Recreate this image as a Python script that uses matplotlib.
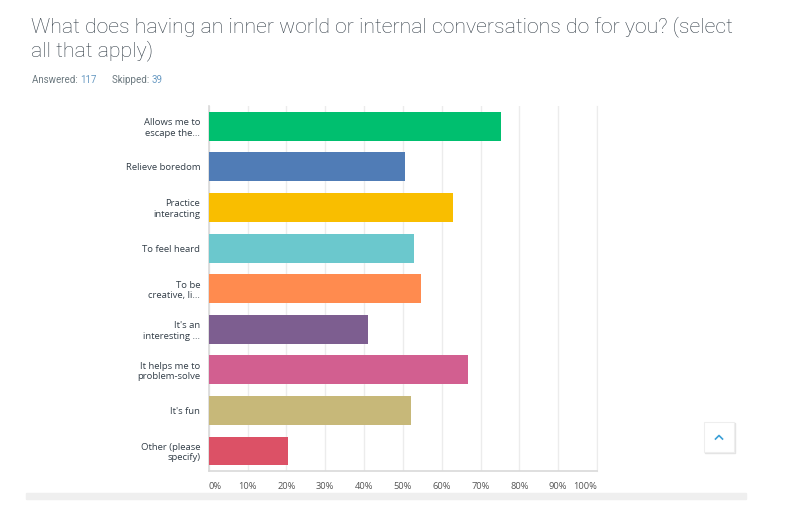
import matplotlib
matplotlib.use("Agg")
import matplotlib.pyplot as plt
from matplotlib.patches import Rectangle
from matplotlib.lines import Line2D

categories = ["Allows me to\nescape the...", "Relieve boredom", "Practice\ninteracting",
              "To feel heard", "To be\ncreative, li...", "It's an\ninteresting ...",
              "It helps me to\nproblem-solve", "It's fun", "Other (please\nspecify)"]
values = [75.21, 50.43, 62.93, 52.99, 54.70, 41.03, 66.67, 52.14, 20.51]
colors = ["#00BF6F", "#507CB6", "#F9BE00", "#6BC8CD", "#FF8B4F", "#7D5E90",
          "#D25F90", "#C7B879", "#DC5166"]
xticks = [0, 10, 20, 30, 40, 50, 60, 70, 80, 90, 100]
xticklabels = ["0%", "10%", "20%", "30%", "40%", "50%", "60%", "70%", "80%", "90%", "100%"]
title_lines = ["What does having an inner world or internal conversations do for you? (select",
               "all that apply)"]

W, H = 792, 513
fig = plt.figure(figsize=(W / 100, H / 100), dpi=100)
fig.patch.set_facecolor("white")

ax = fig.add_axes([208.7 / W, 1 - 471.3 / H, (597 - 208.7) / W, (471.3 - 106) / H])
ypos = list(range(len(categories)))
ax.barh(ypos, values, height=0.714, color=colors, zorder=3)
ax.set_xlim(0, 100)
ax.set_ylim(len(categories) - 0.5, -0.5)
ax.set_xticks(xticks)
ax.set_xticklabels(xticklabels)
ax.set_yticks(ypos)
ax.set_yticklabels(categories, fontsize=6.8, color="#333e48", family="Open Sans", linespacing=1.2)
for lbl in ax.get_xticklabels():
    lbl.set_fontsize(6.7)
    lbl.set_color("#555555")
    lbl.set_family("Open Sans")
xl = ax.get_xticklabels()
xl[0].set_horizontalalignment("left")
xl[-1].set_horizontalalignment("right")
ax.tick_params(axis="both", length=0)
ax.tick_params(axis="x", pad=8)
ax.tick_params(axis="y", pad=6)
ax.grid(axis="x", color="#ececec", linewidth=1, zorder=0)
ax.spines["top"].set_visible(False)
ax.spines["right"].set_color("#ececec")
ax.spines["left"].set_color("#d9d9d9")
ax.spines["bottom"].set_color("#d9d9d9")
ax.spines["left"].set_linewidth(1.2)
ax.spines["bottom"].set_linewidth(1.2)

for line, base in zip(title_lines, [32, 56]):
    fig.text(31 / W, 1 - base / H, line, fontsize=15.3, color="#333e48", family="Roboto",
             fontweight="light", ha="left", va="baseline")

t1 = fig.text(32 / W, 1 - 80 / H, "Answered: ", fontsize=7, color="#6b787f",
              family="Roboto", va="center", ha="left")
fig.canvas.draw()
r = fig.canvas.get_renderer()
x = t1.get_window_extent(r).x1
t2 = fig.text(x / W, 1 - 80 / H, "117", fontsize=7, color="#6a9bc3",
              family="Roboto", va="center", ha="left")
x = t2.get_window_extent(r).x1 + 15
t3 = fig.text(x / W, 1 - 80 / H, "Skipped: ", fontsize=7, color="#6b787f",
              family="Roboto", va="center", ha="left")
x = t3.get_window_extent(r).x1
fig.text(x / W, 1 - 80 / H, "39", fontsize=7, color="#6a9bc3",
         family="Roboto", va="center", ha="left")

# bottom gray scroll strip
fig.patches.append(Rectangle((26 / W, 1 - 499 / H), (746 - 26) / W, 6 / H,
                             transform=fig.transFigure, color="#efefef", zorder=0))
# back-to-top button
fig.patches.append(Rectangle((705 / W, 1 - 453 / H), 30 / W, 30 / H,
                             transform=fig.transFigure, color="#e4e4e4", zorder=1))
fig.patches.append(Rectangle((704 / W, 1 - 451.5 / H), 30 / W, 30 / H,
                             transform=fig.transFigure, facecolor="white",
                             edgecolor="#eeeeee", linewidth=0.8, zorder=2))
fig.lines.append(Line2D([715.5 / W, 719 / W, 722.5 / W],
                        [1 - 439 / H, 1 - 435.5 / H, 1 - 439 / H],
                        transform=fig.transFigure, color="#3a9fd6", linewidth=1.2, zorder=3))

fig.savefig("out.png", dpi=100, facecolor="white")
